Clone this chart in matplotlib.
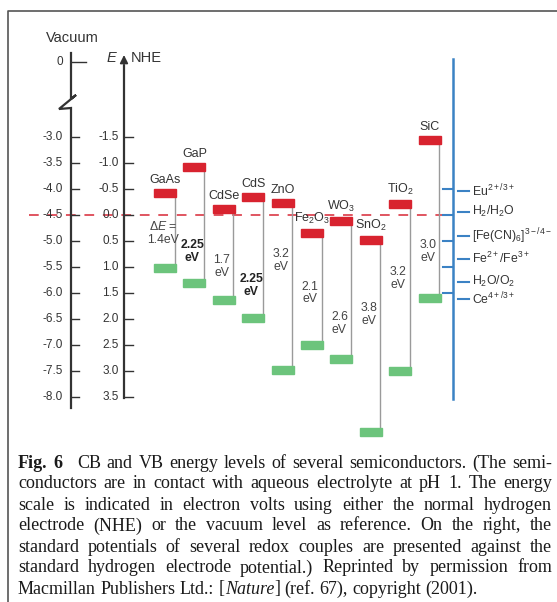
import matplotlib
matplotlib.use("Agg")
import matplotlib.pyplot as plt
from matplotlib.patches import Rectangle

plt.rcParams['font.family'] = ['Liberation Sans', 'DejaVu Sans']
plt.rcParams['mathtext.fontset'] = 'custom'
plt.rcParams['mathtext.rm'] = 'Liberation Sans'
plt.rcParams['mathtext.it'] = 'Liberation Sans:italic'

# band edges vs NHE (eV)
materials = ['GaAs', 'GaP', 'CdSe', 'CdS', 'ZnO', 'Fe$_2$O$_3$', 'WO$_3$',
             'SnO$_2$', 'TiO$_2$', 'SiC']
cb_edges = [-0.41, -0.91, -0.11, -0.34, -0.22, 0.36, 0.13, 0.49, -0.20, -1.43]
vb_edges = [1.03, 1.32, 1.64, 1.99, 2.99, 2.51, 2.78, 4.18, 3.01, 1.61]
gap_labels = ['$\\Delta E$ =\n1.4eV', '2.25\neV', '1.7\neV', '2.25\neV', '3.2\neV',
              '2.1\neV', '2.6\neV', '3.8\neV', '3.2\neV', '3.0\neV']

nhe_ticks = [-1.5, -1.0, -0.5, 0.0, 0.5, 1.0, 1.5, 2.0, 2.5, 3.0, 3.5]
vac_ticks = [-3.0, -3.5, -4.0, -4.5, -5.0, -5.5, -6.0, -6.5, -7.0, -7.5, -8.0]

redox_labels = ['Eu$^{2+/3+}$', 'H$_2$/H$_2$O', '[Fe(CN)$_6$]$^{3-/4-}$',
                'Fe$^{2+}$/Fe$^{3+}$', 'H$_2$O/O$_2$', 'Ce$^{4+/3+}$']
redox_levels = [-0.45, -0.05, 0.42, 0.85, 1.29, 1.62]
redox_axis_ticks = [-0.5, 0.0, 0.5, 1.0, 1.5]

caption_lines = [
    "CB and VB energy levels of several semiconductors. (The semi-",
    "conductors are in contact with aqueous electrolyte at pH 1. The energy",
    "scale is indicated in electron volts using either the normal hydrogen",
    "electrode (NHE) or the vacuum level as reference. On the right, the",
    "standard potentials of several redox couples are presented against the",
    "standard hydrogen electrode potential.) Reprinted by permission from",
]

# layout: one axes over the whole figure, x in pixels, y in eV (NHE)
W, H = 557, 602
Y0, PPE = 214.5, 52.0   # pixel row of 0 V NHE, pixels per eV


def ey(py):
    return (py - Y0) / PPE


fig = plt.figure(figsize=(W / 100, H / 100), dpi=100)
ax = fig.add_axes([0, 0, 1, 1])
ax.set_xlim(0, W)
ax.set_ylim(ey(H), ey(0))
ax.axis('off')

# frame
ax.plot([8, 8, W], [ey(H), ey(11), ey(11)], color='#555555', lw=1.2)

# vacuum axis with break
vx = 71
ax.plot([vx, vx, vx + 5, vx - 12, vx, vx],
        [ey(53), ey(99), ey(95), ey(109), ey(108), ey(408)],
        color='#333333', lw=1.6, solid_joinstyle='miter')
ax.text(72, ey(38), 'Vacuum', fontsize=10.5, ha='center', va='center', color='#333333')
ax.plot([vx, vx + 15], [ey(62), ey(62)], color='#333333', lw=1.0)
ax.text(63, ey(62), '0', fontsize=8.5, ha='right', va='center', color='#333333')
for v in vac_ticks:
    e = -4.5 - v
    ax.plot([vx, vx + 8], [e, e], color='#333333', lw=1.0)
    ax.text(63, e, '%.1f' % v, fontsize=8.5, ha='right', va='center', color='#333333')

# NHE axis with arrow
nx = 124
ax.plot([nx, nx], [ey(398), ey(66)], color='#333333', lw=1.6)
ax.annotate('', xy=(nx, ey(55)), xytext=(nx, ey(70)),
            arrowprops=dict(arrowstyle='-|>', color='#333333', lw=1.2,
                            mutation_scale=12, shrinkA=0, shrinkB=0))
ax.text(118, ey(58), '$E$', fontsize=10.5, ha='right', va='center', color='#333333')
ax.text(131, ey(58), 'NHE', fontsize=10.5, ha='left', va='center', color='#333333')
for t in nhe_ticks:
    ax.plot([nx, nx + 9], [t, t], color='#333333', lw=1.0)
    ax.text(119, t, '%.1f' % t, fontsize=8.5, ha='right', va='center', color='#333333')

# water reduction level
ax.plot([29, 453], [0, 0], color='#e05560', lw=1.4, dashes=(5, 4.5), zorder=1)

# semiconductors
x0, dx, bw, bh = 165, 29.4, 22, 0.16
bold_gaps = {1, 3}
gap_label_y = [0.36, 0.72, 1.0, 1.36, 0.88, 1.51, 2.10, 1.93, 1.23, 0.72]
for i, (name, cb, vb) in enumerate(zip(materials, cb_edges, vb_edges)):
    xc = x0 + i * dx
    ax.plot([xc + bw / 2 - 1.5] * 2, [cb, vb], color='#9a9a9a', lw=1.0, zorder=2)
    ax.add_patch(Rectangle((xc - bw / 2, cb - bh / 2), bw, bh, color='#d8232f', zorder=3))
    ax.add_patch(Rectangle((xc - bw / 2, vb - bh / 2), bw, bh, color='#6cc47c', zorder=3))
    ax.text(xc, cb - bh / 2 - 0.05, name, fontsize=9, ha='center', va='bottom',
            color='#333333')
    ax.text(xc - 2, gap_label_y[i], gap_labels[i], fontsize=8.8, ha='center',
            va='center', linespacing=1.1, color='#222222' if i in bold_gaps else '#444444',
            fontweight='bold' if i in bold_gaps else 'normal')

# redox scale
bx = 453
ax.plot([bx, bx], [ey(59), ey(399)], color='#3b82c4', lw=1.8)
for t in redox_axis_ticks:
    ax.plot([bx - 10, bx], [t, t], color='#3b82c4', lw=1.5)
for lab, lev in zip(redox_labels, redox_levels):
    ax.plot([bx + 5, bx + 16], [lev, lev], color='#3b82c4', lw=1.5)
    ax.text(bx + 19, lev, lab, fontsize=8.8, ha='left', va='center', color='#333333')

# caption, justified
cap_font = dict(family='Liberation Serif', fontsize=13, color='#1a1a1a')
left, right = 18, 552
line_y = [463 + 21 * k for k in range(7)]
renderer = fig.canvas.get_renderer()


def word_width(t):
    bb = t.get_window_extent(renderer=renderer)
    return bb.width


def place_line(segments, y, justify=True):
    # segments: list of words, each a list of (text, style) pieces
    arts = []
    widths = []
    for word in segments:
        pieces = []
        w = 0
        for txt, style in word:
            kw = dict(cap_font)
            if style == 'bold':
                kw['fontweight'] = 'bold'
            if style == 'italic':
                kw['fontstyle'] = 'italic'
            if style == 'pad':
                kw['alpha'] = 0
            t = fig.text(0, 1 - y / H, txt, ha='left', va='center', **kw)
            pw = word_width(t)
            pieces.append((t, w))
            w += pw
        arts.append(pieces)
        widths.append(w)
    total = sum(widths)
    n = len(segments)
    if justify and n > 1:
        gap = (right - left - total) / (n - 1)
    else:
        sp = fig.text(0, 0, 'a b', **cap_font)
        sp2 = fig.text(0, 0, 'ab', **cap_font)
        gap = word_width(sp) - word_width(sp2)
        sp.remove()
        sp2.remove()
    x = left
    for pieces, w in zip(arts, widths):
        for t, off in pieces:
            t.set_x((x + off) / W)
        x += w + gap


first = [[('Fig.', 'bold')], [('6', 'bold'), ('n', 'pad')]]
first = first + [[(w, 'normal')] for w in caption_lines[0].split()]
place_line(first, line_y[0])
for k in range(1, 6):
    place_line([[(w, 'normal')] for w in caption_lines[k].split()], line_y[k])
last = [[('Macmillan', 'normal')], [('Publishers', 'normal')], [('Ltd.:', 'normal')],
        [('[', 'normal'), ('Nature', 'italic'), (']', 'normal')], [('(ref.', 'normal')],
        [('67),', 'normal')], [('copyright', 'normal')], [('(2001).', 'normal')]]
place_line(last, line_y[6], justify=False)

fig.savefig('out.png', dpi=100)
